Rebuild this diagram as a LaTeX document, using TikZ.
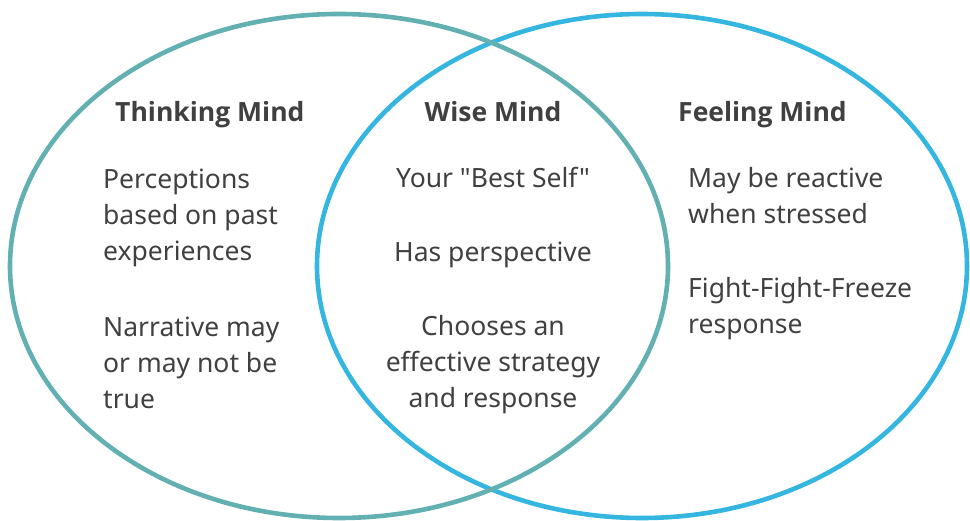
\documentclass[tikz,border=0pt]{standalone}
\usepackage{fontspec}
\setmainfont{Noto Sans}[Ligatures=TeXOff]
\newfontfamily\headfont{Open Sans}
\definecolor{teal1}{HTML}{63B0B2}
\definecolor{blue1}{HTML}{35B6E1}
\definecolor{txt}{HTML}{404040}
\newcommand{\colL}[1]{\vtop{\halign{##\hfil\cr#1\crcr}}}
\newcommand{\colC}[1]{\vtop{\halign{\hfil##\hfil\cr#1\crcr}}}
\begin{document}
\begin{tikzpicture}[x=1pt,y=-1pt,
  ring/.style={line width=4.6pt},
  title/.style={font=\fontsize{26.5}{36}\selectfont\headfont\bfseries,text=txt,inner sep=0pt},
  body/.style={font=\fontsize{26.5}{36}\selectfont,text=txt,inner sep=0pt}]

\useasboundingbox (0,0) rectangle (970,521);

\draw[ring,blue1] (642,266) ellipse [x radius=325,y radius=252];
\draw[ring,teal1] (339,266) ellipse [x radius=329,y radius=252];

\node[title,anchor=base west] (thinkT) at (115,122) {Thinking Mind};
\node[body,anchor=base west] (thinkA) at (103,189) {\colL{Perceptions\cr based on past\cr experiences}};
\node[body,anchor=base west] (thinkB) at (103,337) {\colL{Narrative may\cr or may not be\cr true}};

\node[title,anchor=base] (wiseT) at (493,122) {Wise Mind};
\node[body,anchor=base] (wiseA) at (493,188) {Your "Best Self"};
\node[body,anchor=base] (wiseB) at (493,262) {Has perspective};
\node[body,anchor=base] (wiseC) at (493,336) {\colC{Chooses an\cr effective strategy\cr and response}};

\node[title,anchor=base west] (feelT) at (678,122) {Feeling Mind};
\node[body,anchor=base west] (feelA) at (688,188) {\colL{May be reactive\cr when stressed}};
\node[body,anchor=base west] (feelB) at (688,298) {\colL{Fight-Fight-Freeze\cr response}};

\end{tikzpicture}
\end{document}
